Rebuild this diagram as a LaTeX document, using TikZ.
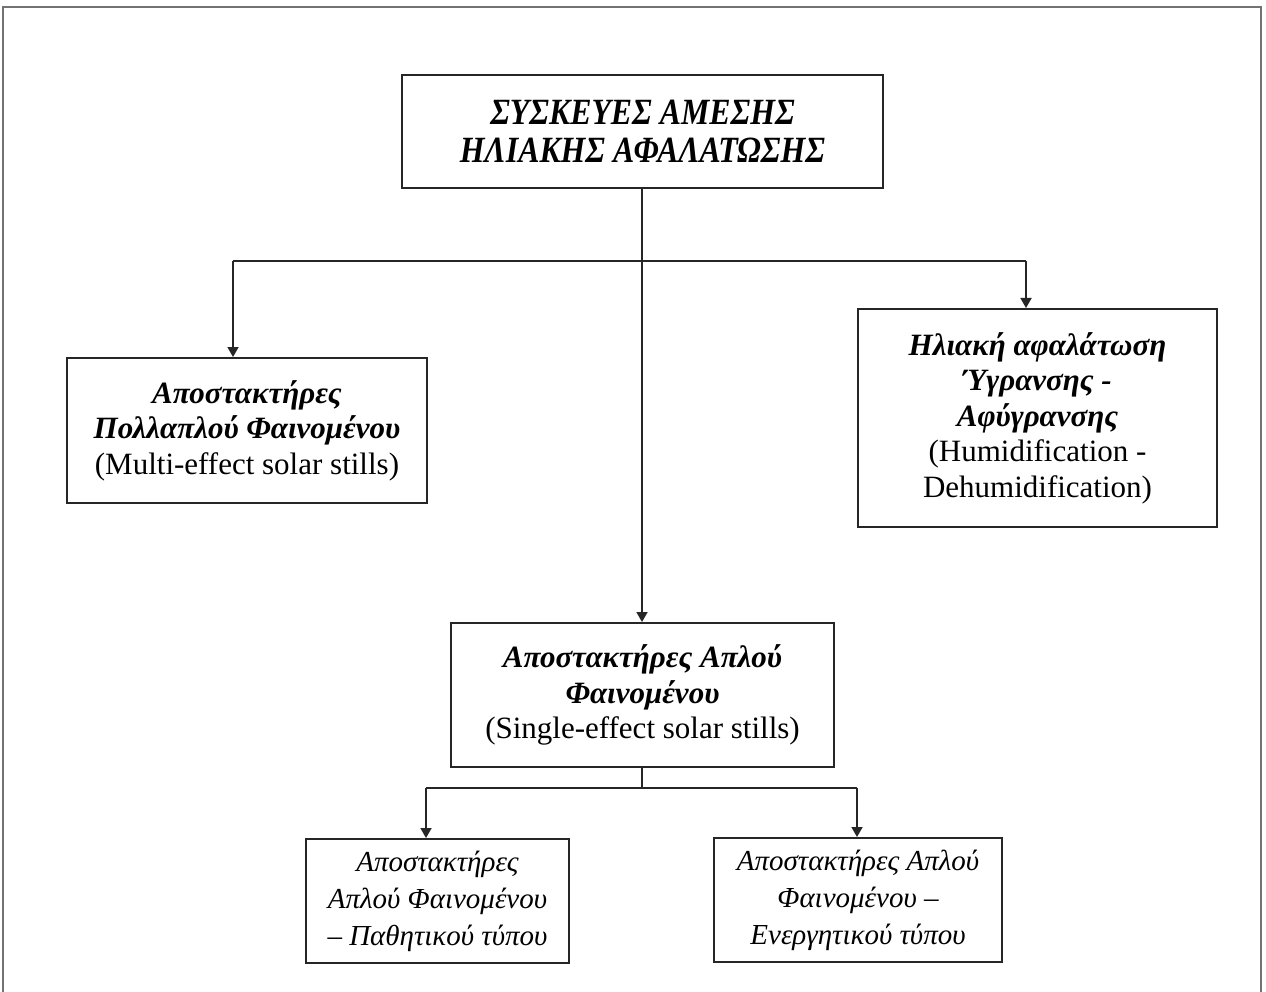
\documentclass[tikz,border=0pt]{standalone}
\usepackage{fontspec}
\usepackage{graphicx}
\setmainfont{Liberation Serif}
\usetikzlibrary{arrows.meta}
\newcommand\cndline[1]{\scalebox{0.86}[1]{#1}}
\begin{document}
\begin{tikzpicture}[x=1pt,y=-1pt,
  box/.style={draw=black!85, line width=2pt, align=center, inner sep=0pt},
  big/.style={font=\fontsize{31}{35.5}\selectfont},
  small/.style={font=\fontsize{29}{37}\selectfont\itshape},
  conn/.style={draw=black!85, line width=1.8pt},
  arr/.style={conn, -{Triangle[width=11pt,length=10pt]}}]
\useasboundingbox (0,0) rectangle (1266,992);
\fill[white] (0,0) rectangle (1266,992);
% outer frame
\draw[black!55, line width=1.5pt] (3,992) -- (3,7) -- (1261,7) -- (1261,992);
% boxes
\node[box, minimum width=481pt, minimum height=113pt,
  font=\fontsize{37}{38}\selectfont\bfseries\itshape] (top) at (642.5,131.5)
  {\cndline{ΣΥΣΚΕΥΕΣ ΑΜΕΣΗΣ}\\\cndline{ΗΛΙΑΚΗΣ ΑΦΑΛΑΤΩΣΗΣ}};
\node[box, big, minimum width=360pt, minimum height=145pt] (left) at (247,430.5)
  {\textbf{\textit{Αποστακτήρες}}\\\textbf{\textit{Πολλαπλού Φαινομένου}}\\(Multi-effect solar stills)};
\node[box, big, minimum width=359pt, minimum height=218pt] (right) at (1037.5,418)
  {\textbf{\textit{Ηλιακή αφαλάτωση}}\\\textbf{\textit{Ύγρανσης -}}\\\textbf{\textit{Αφύγρανσης}}\\(Humidification -\\Dehumidification)};
\node[box, big, minimum width=383pt, minimum height=144pt] (mid) at (642.5,695)
  {\textbf{\textit{Αποστακτήρες Απλού}}\\\textbf{\textit{Φαινομένου}}\\(Single-effect solar stills)};
\node[box, small, minimum width=263pt, minimum height=124pt] (bl) at (437.5,901)
  {Αποστακτήρες\\Απλού Φαινομένου\\– Παθητικού τύπου};
\node[box, small, minimum width=288pt, minimum height=124pt] (br) at (858,900)
  {Αποστακτήρες Απλού\\Φαινομένου –\\Ενεργητικού τύπου};
% junctions
\coordinate (jt) at (642,261);
\coordinate (jl) at (233,261);
\coordinate (jr) at (1026,261);
\coordinate (jb) at (642,788);
\coordinate (jbl) at (426,788);
\coordinate (jbr) at (857,788);
% connectors
\draw[arr] (top.south -| jt) -- (mid.north -| jt);
\draw[conn] (jl) -- (jr);
\draw[arr] (jl) -- (jl |- left.north);
\draw[arr] (jr) -- (jr |- right.north);
\draw[conn] (mid.south -| jb) -- (jb);
\draw[conn] (jbl) -- (jbr);
\draw[arr] (jbl) -- (jbl |- bl.north);
\draw[arr] (jbr) -- (jbr |- br.north);
\end{tikzpicture}
\end{document}
